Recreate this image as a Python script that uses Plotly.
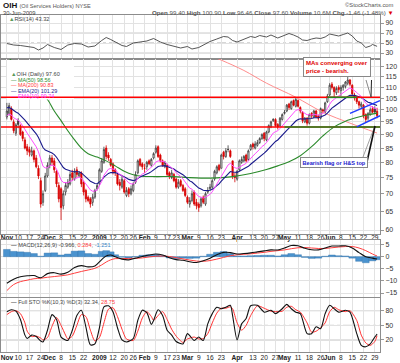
import math
import plotly.graph_objects as go

W, H = 400, 363
FONT = "Liberation Sans, Arial, sans-serif"

# ---------------- data ----------------
tick_idx = [0, 5, 10, 15, 19, 24, 29, 34, 41, 47, 52, 56, 61, 66, 71, 75, 80, 85, 90, 95,
            102, 109, 114, 119, 123, 129, 134, 139, 143, 148, 153, 158, 163]
tick_txt = ["Nov", "10", "17", "24", "Dec", "8", "15", "22", "2009", "12", "20", "26", "Feb", "9",
            "17", "23", "Mar", "9", "16", "23", "Apr", "13", "20", "27", "May", "11", "18", "26",
            "Jun", "8", "15", "22", "29"]

opens = [97.0, 98.5, 100.5, 95.0, 90.5, 95.5, 93.5, 91.0, 88.0, 85.5,
         84.5, 82.5, 84.0, 81.5, 78.0, 74.0, 67.5, 71.0, 75.5, 79.0,
         81.5, 80.5, 77.0, 72.5, 71.5, 66.5, 70.5, 72.0, 73.0, 76.5,
         74.5, 77.5, 75.5, 76.5, 73.5, 71.0, 69.0, 68.5, 67.5, 69.0,
         71.5, 73.0, 77.0, 80.0, 85.0, 82.5, 81.0, 79.5, 77.5, 76.0,
         73.5, 72.0, 74.0, 69.5, 71.5, 70.0, 71.0, 73.5, 76.5, 81.0,
         79.5, 78.0, 78.5, 80.5, 79.0, 81.5, 83.5, 85.5, 82.5, 80.5,
         78.5, 79.0, 76.5, 75.0, 76.0, 74.5, 72.0, 74.0, 72.5, 71.5,
         69.0, 67.0, 68.0, 70.5, 67.5, 67.0, 66.5, 69.0, 67.0, 70.5,
         71.5, 72.0, 74.5, 76.5, 79.0, 78.0, 83.5, 82.0, 84.5, 84.0,
         80.5, 75.5, 74.5, 77.5, 80.0, 80.5, 82.5, 81.0, 84.5, 86.5,
         85.0, 86.0, 87.0, 88.5, 90.5, 88.0, 91.0, 93.0, 95.5, 96.0,
         94.0, 93.5, 96.0, 98.5, 99.5, 102.5, 100.5, 104.0, 101.5, 104.0,
         101.0, 99.0, 95.0, 96.5, 94.5, 98.5, 97.0, 99.5, 97.5, 96.5,
         100.0, 99.0, 103.5, 106.5, 111.5, 110.0, 107.5, 110.0, 108.5, 110.0,
         110.5, 112.0, 113.5, 111.0, 106.5, 105.5, 103.5, 101.5, 102.0, 98.0,
         96.5, 98.0, 100.5, 100.5, 99.40]
highs = [103.0, 103.0, 101.5, 96.0, 94.5, 96.5, 94.0, 91.5, 89.0, 86.5,
         85.5, 85.5, 84.5, 82.5, 79.0, 75.0, 71.0, 76.5, 80.0, 82.5,
         82.5, 81.5, 77.5, 73.5, 72.0, 71.0, 73.5, 74.5, 77.0, 77.5,
         78.0, 78.5, 77.0, 77.0, 74.0, 71.5, 69.5, 69.0, 70.0, 71.5,
         73.0, 78.0, 81.5, 85.5, 86.0, 83.5, 81.5, 80.0, 78.0, 76.5,
         74.5, 75.5, 74.5, 72.0, 72.0, 72.5, 73.5, 77.0, 81.0, 81.5,
         80.0, 79.5, 80.5, 81.0, 81.5, 83.5, 86.0, 86.0, 83.0, 81.0,
         80.5, 79.5, 77.0, 77.5, 76.5, 75.0, 74.5, 74.5, 73.0, 72.0,
         69.5, 69.0, 71.0, 71.0, 68.5, 67.5, 69.0, 69.5, 70.5, 72.0,
         73.0, 74.5, 77.5, 79.0, 79.5, 83.0, 84.0, 85.0, 86.0, 84.5,
         80.5, 76.5, 77.5, 81.0, 82.0, 82.5, 83.0, 84.5, 86.5, 87.0,
         87.5, 88.0, 89.0, 90.5, 91.0, 91.5, 94.0, 95.5, 96.5, 96.5,
         94.5, 97.0, 98.5, 100.0, 102.5, 103.0, 104.0, 104.5, 105.3, 104.5,
         101.5, 99.5, 97.0, 97.0, 98.5, 99.0, 100.0, 100.0, 98.0, 101.0,
         100.5, 103.5, 107.0, 112.0, 112.5, 110.5, 110.5, 111.0, 111.0, 111.5,
         113.0, 116.0, 114.0, 111.5, 107.5, 106.0, 104.0, 103.5, 102.5, 98.5,
         99.0, 101.0, 101.5, 101.5, 100.90]
lows = [96.0, 97.5, 95.5, 90.5, 89.5, 92.5, 89.5, 87.5, 84.5, 82.5,
        82.0, 82.0, 80.0, 78.0, 74.5, 66.0, 66.5, 70.5, 75.0, 78.0,
        79.0, 76.5, 72.0, 67.5, 62.6, 65.5, 69.5, 71.5, 72.5, 74.0,
        74.0, 75.0, 75.0, 72.0, 69.5, 67.5, 67.5, 66.0, 66.5, 68.5,
        71.0, 72.5, 76.5, 79.5, 81.0, 80.5, 78.5, 76.0, 75.5, 72.5,
        71.0, 71.5, 70.0, 69.0, 69.0, 69.5, 70.5, 73.0, 76.0, 78.5,
        77.5, 76.5, 77.5, 79.0, 78.5, 81.0, 83.0, 81.5, 80.0, 78.5,
        78.0, 75.5, 74.5, 74.5, 73.5, 71.5, 71.5, 72.0, 70.5, 69.0,
        67.0, 66.0, 67.5, 66.5, 65.5, 64.8, 66.0, 67.0, 66.5, 70.0,
        71.0, 71.5, 74.0, 76.0, 77.0, 78.0, 81.0, 81.5, 83.5, 81.5,
        74.5, 73.5, 74.0, 77.0, 79.5, 80.0, 80.0, 80.5, 84.0, 84.5,
        84.5, 85.5, 86.5, 88.0, 87.5, 87.5, 90.5, 92.5, 95.0, 93.0,
        92.0, 93.0, 95.5, 98.0, 99.0, 100.0, 100.0, 101.5, 101.0, 101.0,
        98.5, 94.5, 94.5, 93.5, 94.0, 96.5, 96.5, 96.5, 95.5, 96.0,
        98.5, 98.5, 103.0, 106.0, 109.0, 105.5, 106.5, 107.5, 106.0, 108.5,
        109.5, 111.0, 110.5, 106.5, 104.0, 102.5, 100.5, 100.5, 96.5, 94.8,
        95.5, 97.5, 98.5, 98.5, 96.46]
closes = [99.5, 101.8, 96.0, 91.5, 93.8, 94.0, 90.0, 88.5, 85.0, 84.0,
          83.5, 84.0, 81.0, 78.5, 75.5, 67.0, 70.0, 75.5, 79.0, 81.5,
          80.0, 77.5, 73.0, 68.5, 66.0, 70.0, 72.5, 73.5, 76.0, 75.0,
          77.0, 76.0, 76.5, 73.0, 70.5, 68.5, 68.0, 67.0, 69.0, 71.0,
          72.5, 77.5, 80.5, 84.5, 82.0, 81.5, 79.0, 77.0, 76.5, 73.0,
          72.5, 74.5, 70.5, 71.0, 70.0, 71.5, 73.0, 76.0, 80.5, 79.0,
          78.5, 78.0, 80.0, 79.5, 81.0, 83.0, 85.0, 82.0, 80.5, 79.0,
          80.0, 76.0, 75.5, 76.5, 74.0, 72.0, 73.5, 72.5, 71.0, 69.5,
          67.5, 68.0, 70.0, 67.0, 66.5, 66.0, 68.5, 67.5, 70.0, 71.0,
          72.0, 74.0, 77.0, 78.5, 77.5, 82.5, 82.0, 84.0, 84.5, 82.0,
          75.5, 75.0, 77.0, 80.5, 81.0, 82.0, 80.5, 84.0, 86.0, 85.5,
          86.5, 87.0, 88.5, 90.0, 88.5, 91.0, 93.5, 95.0, 96.0, 93.5,
          93.0, 96.5, 98.0, 99.0, 102.0, 101.0, 103.5, 102.0, 104.5, 101.5,
          99.5, 95.5, 96.5, 94.5, 98.0, 97.5, 99.5, 97.0, 96.5, 100.5,
          99.5, 103.0, 106.0, 111.0, 110.0, 108.0, 109.5, 109.0, 110.0, 111.0,
          112.5, 113.5, 111.5, 107.0, 105.5, 103.5, 102.0, 102.5, 97.5, 96.0,
          98.5, 100.0, 99.0, 99.06, 97.60]

ema10_seed = 97.0
ema20_seed = 101.0

ma50_idx = [0, 6, 12, 18, 21, 24, 27, 30, 33, 36, 40, 44, 48, 52, 56, 60, 66, 74, 80, 86,
            93, 100, 108, 115, 120, 125, 130, 135, 140, 145, 150, 155, 160, 164]
ma50_val = [126, 118, 111, 104.5, 99.5, 95.5, 91.5, 88.0, 85.0, 83.0, 81.8, 80.5, 78.8, 77.0,
            75.9, 75.4, 75.3, 75.3, 75.0, 74.8, 74.9, 75.3, 76.3, 77.6, 78.8, 80.2, 82.3, 85.5,
            89.5, 93.0, 95.3, 96.8, 97.9, 98.6]
ma200_idx = [60, 80, 95, 105, 115, 128, 140, 152, 164]
ma200_val = [142, 131, 123.5, 118.2, 112.0, 105.5, 99.0, 94.5, 90.6]

rsi_idx = [0, 3, 6, 9, 12, 14, 16, 18, 21, 24, 27, 30, 33, 36, 39, 42, 44, 46, 48, 51,
           53, 56, 59, 62, 65, 68, 71, 74, 77, 80, 82, 85, 88, 90, 93, 96, 98, 100, 102, 105,
           108, 110, 112, 115, 117, 120, 122, 125, 127, 129, 131, 133, 135, 137, 139, 141, 143, 145, 147, 149,
           151, 153, 155, 157, 159, 161, 162, 164]
rsi_val = [49, 46, 45, 43, 41, 36, 40, 47, 41, 37, 46, 49, 48, 42, 44, 55, 61, 57, 52, 45,
           43, 50, 52, 54, 59, 52, 47, 43, 40, 43, 38, 41, 48, 53, 58, 63, 62, 55, 52, 57,
           63, 61, 65, 62, 66, 60, 64, 69, 66, 62, 56, 55, 58, 60, 59, 62, 68, 66, 64, 67,
           70, 64, 54, 50, 41, 44, 47, 43.32]

macd_idx = [0, 3, 6, 9, 12, 15, 18, 21, 24, 27, 30, 33, 36, 39, 42, 44, 46, 48,
            51, 54, 57, 60, 63, 66, 69, 72, 75, 78, 81, 84, 87, 90, 93, 96, 99, 102, 105, 108,
            111, 114, 117, 120, 123, 126, 129, 132, 135, 138, 141, 144, 147, 150, 153, 156, 159, 162, 164]
macd_val = [-11, -9.3, -8.3, -7.9, -7.8, -8.7, -7.0, -6.6, -7.2, -6.4, -4.5, -3.7, -4.2, -3.8, -1.2, 0.3, 0.7, 0.0,
            -1.0, -1.3, -0.6, 0.1, 0.7, 1.1, 0.7, -0.4, -1.2, -1.5, -2.1, -2.4, -1.7, -0.6, 0.8, 1.8, 1.7, 1.1, 1.3, 1.6,
            2.0, 2.4, 2.8, 2.8, 3.6, 4.6, 4.5, 3.5, 2.9, 2.8, 3.6, 4.4, 4.4, 4.5, 3.6, 1.7, 0.0, -0.6, -0.966]
signal_val = [-14, -11.5, -10.3, -9.7, -9.1, -8.9, -8.5, -8.2, -7.9, -7.5, -6.8, -6.1, -5.5, -4.8, -3.4, -2.2, -1.3, -0.8,
              -0.8, -0.7, -0.7, -0.5, -0.1, 0.2, 0.3, 0.1, -0.4, -0.9, -1.4, -1.8, -1.9, -1.6, -1.0, -0.3, 0.4, 0.8, 1.0, 1.2,
              1.5, 1.8, 2.2, 2.5, 2.8, 3.3, 3.7, 3.8, 3.6, 3.4, 3.4, 3.7, 4.0, 4.2, 4.2, 3.6, 2.5, 1.1, 0.284]

sto_idx = [0, 2, 4, 6, 8, 9, 11, 13, 15, 16, 18, 20, 22, 24, 26, 27, 29, 31, 33, 35,
           37, 39, 41, 43, 45, 47, 49, 51, 53, 56, 58, 60, 62, 64, 65, 67, 69, 71, 73, 75,
           78, 80, 83, 85, 87, 89, 91, 93, 95, 97, 99, 100, 102, 104, 106, 108, 111, 114, 117, 119,
           122, 124, 126, 128, 130, 133, 135, 137, 139, 141, 143, 145, 147, 150, 152, 155, 157, 159, 161, 163, 164]
sto_k = [78, 82, 79, 62, 30, 23, 30, 27, 18, 16, 40, 72, 62, 26, 20, 19, 40, 70, 81, 47,
         10, 12, 45, 88, 90, 78, 45, 20, 16, 23, 60, 81, 76, 52, 60, 82, 70, 40, 30, 17,
         12, 33, 19, 26, 19, 53, 74, 87, 84, 87, 91, 70, 20, 53, 64, 90, 91, 77, 81, 74,
         84, 93, 84, 77, 74, 33, 33, 47, 43, 74, 91, 84, 77, 81, 77, 33, 9, 6, 12, 26, 32.34]
sto_d = [72, 78, 80, 74, 55, 38, 27, 28, 24, 20, 25, 48, 66, 50, 30, 22, 28, 50, 72, 68,
         40, 18, 25, 55, 83, 86, 68, 42, 22, 19, 38, 65, 78, 68, 60, 70, 78, 62, 42, 28,
         15, 22, 26, 22, 23, 33, 55, 75, 85, 85, 88, 84, 55, 40, 50, 70, 90, 85, 79, 78,
         79, 87, 89, 82, 77, 55, 36, 38, 45, 55, 78, 87, 82, 78, 80, 60, 30, 14, 9, 17, 28.75]

price_ticks = [60, 65, 70, 75, 80, 85, 90, 95, 100, 105, 110, 115, 120]
resist_level = 105.5
support_level = 93.0
green_upper_idx = [142, 155]
green_lower_idx = [123, 165.3]
flag_upper_idx = [152, 165.3]
flag_upper_val = [98.5, 104.0]
flag_lower_idx = [155, 165.3]
flag_lower_val = [93.0, 97.5]

# ---------------- derived ----------------
n = len(closes)
idx = list(range(n))


def ema(vals, period, seed):
    k = 2.0 / (period + 1)
    e = seed
    out = []
    for v in vals:
        e = e + k * (v - e)
        out.append(e)
    return out


ema10 = ema(closes, 10, ema10_seed)
ema20 = ema(closes, 20, ema20_seed)
hist = [m - s for m, s in zip(macd_val, signal_val)]

# ---------------- geometry ----------------
XR = [-2.6, 165.3]
XD = [1 / W, 380 / W]


def pxf(x):
    return x / W


def pyf(y):
    return 1 - y / H


RSI_D = [pyf(59), pyf(14.5)]
MAIN_D = [pyf(234), pyf(59)]
MACD_D = [pyf(297), pyf(240)]
STO_D = [pyf(352), pyf(298)]
MAIN_R = [math.log10(59.0), math.log10(124.1)]


def ix(i):
    return XD[0] + (i - XR[0]) / (XR[1] - XR[0]) * (XD[1] - XD[0])


def yv(p):
    return MAIN_D[0] + (math.log10(p) - MAIN_R[0]) / (MAIN_R[1] - MAIN_R[0]) * (MAIN_D[1] - MAIN_D[0])


# ---------------- traces ----------------
fig = go.Figure()

up = [i for i in idx if i == 0 or closes[i] >= closes[i - 1]]
dn = [i for i in idx if i > 0 and closes[i] < closes[i - 1]]


def candles(sel, col, fill):
    return go.Candlestick(
        x=[idx[i] for i in sel], open=[opens[i] for i in sel], high=[highs[i] for i in sel],
        low=[lows[i] for i in sel], close=[closes[i] for i in sel], xaxis="x2", yaxis="y2",
        increasing=dict(line=dict(color=col, width=0.8), fillcolor="white"),
        decreasing=dict(line=dict(color=col, width=0.8), fillcolor=fill),
        whiskerwidth=0, hoverinfo="skip")


fig.add_trace(candles(up, "#3a3a3a", "#333333"))
fig.add_trace(candles(dn, "#d40000", "#e60000"))

fig.add_trace(go.Scatter(x=ma200_idx, y=ma200_val, mode="lines", line=dict(color="#ff7f7f", width=0.9),
                         xaxis="x2", yaxis="y2", line_shape="spline"))
fig.add_trace(go.Scatter(x=ma50_idx, y=ma50_val, mode="lines", line=dict(color="#2b8a2b", width=1.1),
                         xaxis="x2", yaxis="y2", line_shape="spline"))
fig.add_trace(go.Scatter(x=idx, y=ema20, mode="lines", line=dict(color="#1a1a8c", width=1.1),
                         xaxis="x2", yaxis="y2"))
fig.add_trace(go.Scatter(x=idx, y=ema10, mode="lines", line=dict(color="#ff4dff", width=1.0),
                         xaxis="x2", yaxis="y2"))

fig.add_trace(go.Scatter(x=rsi_idx, y=rsi_val, mode="lines", line=dict(color="#444444", width=0.9),
                         xaxis="x", yaxis="y"))

fig.add_trace(go.Bar(x=macd_idx, y=hist, width=3, marker=dict(color="#4a93cf", line=dict(color="#2d6fa8", width=0.4)),
                     xaxis="x3", yaxis="y3"))
fig.add_trace(go.Scatter(x=macd_idx, y=signal_val, mode="lines", line=dict(color="#ff4040", width=1.0, shape="spline"),
                         xaxis="x3", yaxis="y3"))
fig.add_trace(go.Scatter(x=macd_idx, y=macd_val, mode="lines", line=dict(color="#111111", width=1.1, shape="spline"),
                         xaxis="x3", yaxis="y3"))

fig.add_trace(go.Scatter(x=sto_idx, y=sto_d, mode="lines", line=dict(color="#ff3030", width=1.0, shape="spline", smoothing=0.7),
                         xaxis="x4", yaxis="y4"))
fig.add_trace(go.Scatter(x=sto_idx, y=sto_k, mode="lines", line=dict(color="#111111", width=1.1, shape="spline", smoothing=0.7),
                         xaxis="x4", yaxis="y4"))

# ---------------- axes ----------------
ticktext = [("<b>%s</b>" % t) if not t.isdigit() or t == "2009" else t for t in tick_txt]
tickfont = dict(family=FONT, size=6.6, color="#222")
grid = "#e2e2e2"
border = "#8c8c8c"


def xax(show, anchor, standoff=0):
    return dict(domain=XD, range=XR, anchor=anchor, tickvals=tick_idx, ticktext=ticktext,
                showticklabels=show, tickfont=tickfont, tickangle=0, ticks="", ticklabelstandoff=standoff,
                showgrid=True, gridcolor=grid,
                gridwidth=1, zeroline=False, showline=True, linecolor=border, linewidth=1, mirror=True,
                fixedrange=True, automargin=False)


def yax(dom, rng, vals, anchor, typ="linear", text=None):
    d = dict(domain=dom, range=rng, anchor=anchor, side="right", tickvals=vals,
             tickfont=dict(family=FONT, size=7, color="#333"), ticks="outside", ticklen=3,
             tickcolor="#999", showgrid=True, gridcolor=grid, zeroline=False, showline=True,
             linecolor=border, linewidth=1, mirror=True, type=typ, fixedrange=True, automargin=False)
    if text is not None:
        d["ticktext"] = text
    return d


layout = dict(
    width=W, height=H, autosize=False, margin=dict(l=0, r=0, t=0, b=0),
    paper_bgcolor="white", plot_bgcolor="white", showlegend=False, hovermode=False,
    boxgap=0.2,
    xaxis=xax(False, "y"),
    xaxis2=dict(xax(True, "y2", -3), rangeslider=dict(visible=False)),
    xaxis3=xax(False, "y3"),
    xaxis4=xax(True, "y4", -1),
    yaxis=yax(RSI_D, [18, 107], [30, 50, 70, 90], "x"),
    yaxis2=yax(MAIN_D, MAIN_R, price_ticks, "x2", typ="log", text=[str(v) for v in price_ticks]),
    yaxis3=yax(MACD_D, [-16.65, 6.9], [-15, -10, -5, 0, 5], "x3"),
    yaxis4=yax(STO_D, [-4.6, 106], [20, 50, 80], "x4"),
)
fig.update_layout(**layout)

# ---------------- shapes ----------------
shapes = []


def hline(yref, val, color, dash="solid", width=0.8):
    shapes.append(dict(type="line", xref="paper", yref=yref, x0=XD[0], x1=XD[1], y0=val, y1=val,
                       line=dict(color=color, width=width, dash=dash), layer="below"))


hline("y", 70, "#bdbdbd")
hline("y", 30, "#bdbdbd")
hline("y", 50, "#9a9a9a", "dashdot")
hline("y4", 80, "#b0b0b0")
hline("y4", 20, "#b0b0b0")
hline("y4", 50, "#9a9a9a", "dashdot")


def pline(x0, y0, x1, y1, color, width):
    shapes.append(dict(type="line", xref="paper", yref="paper", x0=x0, y0=y0, x1=x1, y1=y1,
                       line=dict(color=color, width=width), layer="above"))


# legend backdrop
shapes.append(dict(type="rect", xref="paper", yref="paper", x0=pxf(7), x1=pxf(74), y0=pyf(99.5), y1=pyf(60),
                   fillcolor="white", line=dict(width=0), layer="above"))
# horizontal support / resistance
pline(XD[0], yv(resist_level), XD[1], yv(resist_level), "#ff0000", 1.5)
pline(XD[0], yv(support_level), XD[1], yv(support_level), "#ff0000", 1.5)
pline(ix(green_upper_idx[0]), yv(resist_level), ix(green_upper_idx[1]), yv(resist_level), "#1f8a1f", 1.5)
pline(ix(green_lower_idx[0]), yv(support_level), ix(green_lower_idx[1]), yv(support_level), "#1f8a1f", 1.5)
# flag channel
pline(ix(flag_upper_idx[0]), yv(flag_upper_val[0]), ix(flag_upper_idx[1]), yv(flag_upper_val[1]), "#1e3cff", 1.5)
pline(ix(flag_lower_idx[0]), yv(flag_lower_val[0]), ix(flag_lower_idx[1]), yv(flag_lower_val[1]), "#1e3cff", 1.5)
# callout pointers
pline(pxf(366), pyf(80), pxf(371), pyf(97), "#888888", 1)
pline(pxf(371.5), pyf(80), pxf(371), pyf(97), "#222222", 1)
pline(pxf(363), pyf(157), pxf(374.5), pyf(127), "#888888", 0.8)
pline(pxf(366.5), pyf(164), pxf(375), pyf(126), "#111111", 1.6)

fig.update_layout(shapes=shapes)

# ---------------- texts ----------------
ann = []


def T(x, y, text, size=5.8, color="#333", xanchor="left", **kw):
    d = dict(x=pxf(x), y=pyf(y), xref="paper", yref="paper", text=text, showarrow=False,
             xanchor=xanchor, yanchor="middle", font=dict(family=FONT, size=size, color=color))
    d.update(kw)
    ann.append(d)


T(1, 5.5, "<b>OIH</b> <span style='font-size:5.6px;color:#555'>(Oil Services Holders) NYSE</span>", size=8, color="#111")
T(396, 5.5, "©StockCharts.com", size=5.8, color="#555", xanchor="right")
T(1, 12.8, "30-Jun-2009", size=5.8, color="#444")
T(396, 12.8, "<b>Open</b> 99.40 <b>High</b> 100.90 <b>Low</b> 96.46 <b>Close</b> 97.60 "
             "<b>Volume</b> 10.6M <b>Chg</b> -1.46 (-1.48%) <span style='color:#e00000'>▼</span>",
  size=6.2, color="#555", xanchor="right")

T(7, 18.5, "<span style='color:#5a9a5a'>▲</span>RSI(14) 43.32", size=5.6, color="#444")

T(9, 74, "<span style='color:#5a9a5a'>▲</span>OIH (Daily) 97.60", size=5.6, color="#444")
T(9, 79.5, "— MA(50) 98.56", size=5.4, color="#2b8a2b")
T(9, 85, "— MA(200) 90.83", size=5.4, color="#ff3b3b")
T(9, 90.5, "— EMA(20) 101.29", size=5.4, color="#1a1a8c")
T(9, 96, "— EMA(10) 99.74", size=5.4, color="#ff33ff")

T(9, 245, "<span style='color:#000'>—</span> MACD(12,26,9) -0.966, <span style='color:#ff4040'>0.284</span>, "
          "<span style='color:#3a86c8'>-1.251</span>", size=5.6, color="#444")
T(9, 302, "<span style='color:#000'>—</span> Full STO %K(10,3) %D(3) 32.34, "
          "<span style='color:#ff4040'>28.75</span>", size=5.6, color="#444")

ann.append(dict(x=pxf(303), y=pyf(57), xref="paper", yref="paper", xanchor="left", yanchor="top",
                text="<b>MAs converging over<br>price - bearish.</b>", showarrow=False, align="left",
                font=dict(family=FONT, size=6, color="#e00000"), bgcolor="white",
                bordercolor="#888888", borderwidth=1, borderpad=2))
ann.append(dict(x=pxf(300), y=pyf(157), xref="paper", yref="paper", xanchor="left", yanchor="top",
                text="<b>Bearish flag or H&amp;S top</b>", showarrow=False, align="left",
                font=dict(family=FONT, size=5.6, color="#1a1acc"), bgcolor="white",
                bordercolor="#888888", borderwidth=1, borderpad=1.5))

fig.update_layout(annotations=ann)

fig.write_html("out.html", config={"displayModeBar": False},
               post_script="document.body.style.margin='0';document.body.style.padding='0';"
                           "document.documentElement.style.overflow='hidden';")
